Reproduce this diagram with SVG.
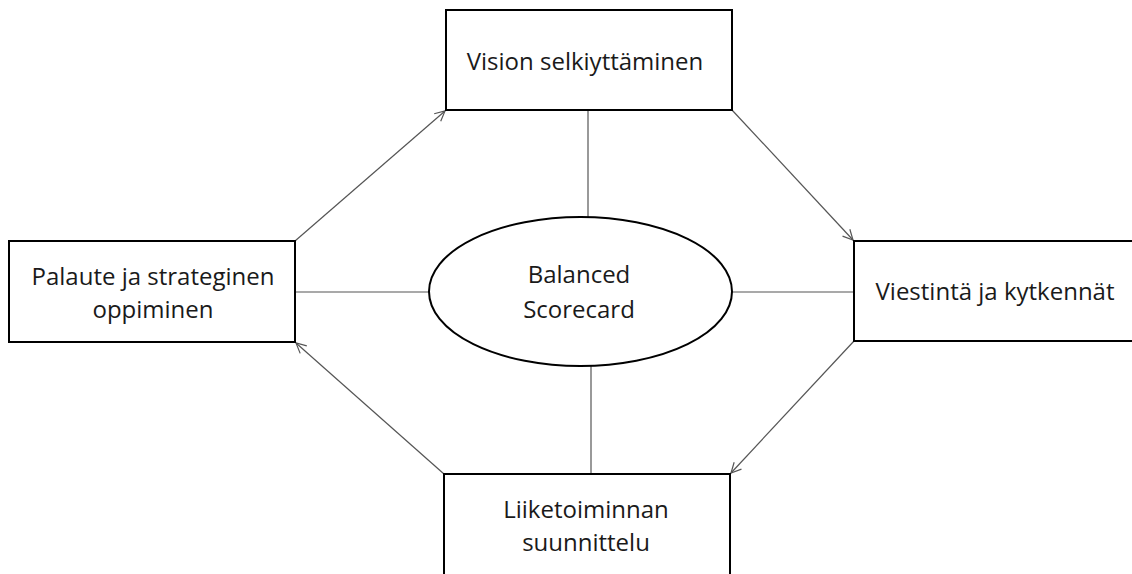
<svg xmlns="http://www.w3.org/2000/svg" width="1132" height="574" viewBox="0 0 1132 574">
  <style>
    .box { fill: #fff; stroke: #000; stroke-width: 2; }
    .lbl { font-family: "Open Sans", "Noto Sans", "Liberation Sans", sans-serif; font-size: 24px; fill: #1a1a1a; text-anchor: middle; }
    .conn { stroke: #555; stroke-width: 1.2; fill: none; }
  </style>
  <defs>
    <marker id="open" viewBox="0 0 12 12" refX="11" refY="6" markerWidth="12" markerHeight="12" markerUnits="userSpaceOnUse" orient="auto">
      <path d="M1,1 L11,6 L1,11" fill="none" stroke="#555" stroke-width="1.2"/>
    </marker>
  </defs>
  <rect width="1132" height="574" fill="#fff"/>

  <g id="connectors">
    <line class="conn" x1="588" y1="110" x2="588" y2="217"/>
    <line class="conn" x1="591" y1="366" x2="591" y2="474"/>
    <line class="conn" x1="295" y1="292" x2="429" y2="292"/>
    <line class="conn" x1="732" y1="292" x2="854" y2="292"/>
    <line class="conn" x1="295" y1="241" x2="445" y2="111" marker-end="url(#open)"/>
    <line class="conn" x1="732" y1="110" x2="853" y2="240" marker-end="url(#open)"/>
    <line class="conn" x1="854" y1="341" x2="731" y2="473" marker-end="url(#open)"/>
    <line class="conn" x1="444" y1="474" x2="296" y2="343" marker-end="url(#open)"/>
  </g>

  <g id="vision">
    <rect class="box" x="446" y="10" width="286" height="100"/>
    <text class="lbl" x="585" y="70">Vision selkiyttäminen</text>
  </g>

  <g id="palaute">
    <rect class="box" x="9" y="241" width="286" height="101"/>
    <text class="lbl" x="153" y="285">Palaute ja strateginen</text>
    <text class="lbl" x="153" y="318">oppiminen</text>
  </g>

  <g id="viestinta">
    <rect class="box" x="854" y="241" width="290" height="100"/>
    <text class="lbl" x="995" y="300">Viestintä ja kytkennät</text>
  </g>

  <g id="liiketoiminta">
    <rect class="box" x="444" y="474" width="286" height="110"/>
    <text class="lbl" x="586" y="518">Liiketoiminnan</text>
    <text class="lbl" x="586" y="551">suunnittelu</text>
  </g>

  <g id="bsc">
    <ellipse class="box" cx="580.5" cy="291.5" rx="151.5" ry="74.5"/>
    <text class="lbl" x="579" y="283">Balanced</text>
    <text class="lbl" x="579" y="318">Scorecard</text>
  </g>
</svg>
